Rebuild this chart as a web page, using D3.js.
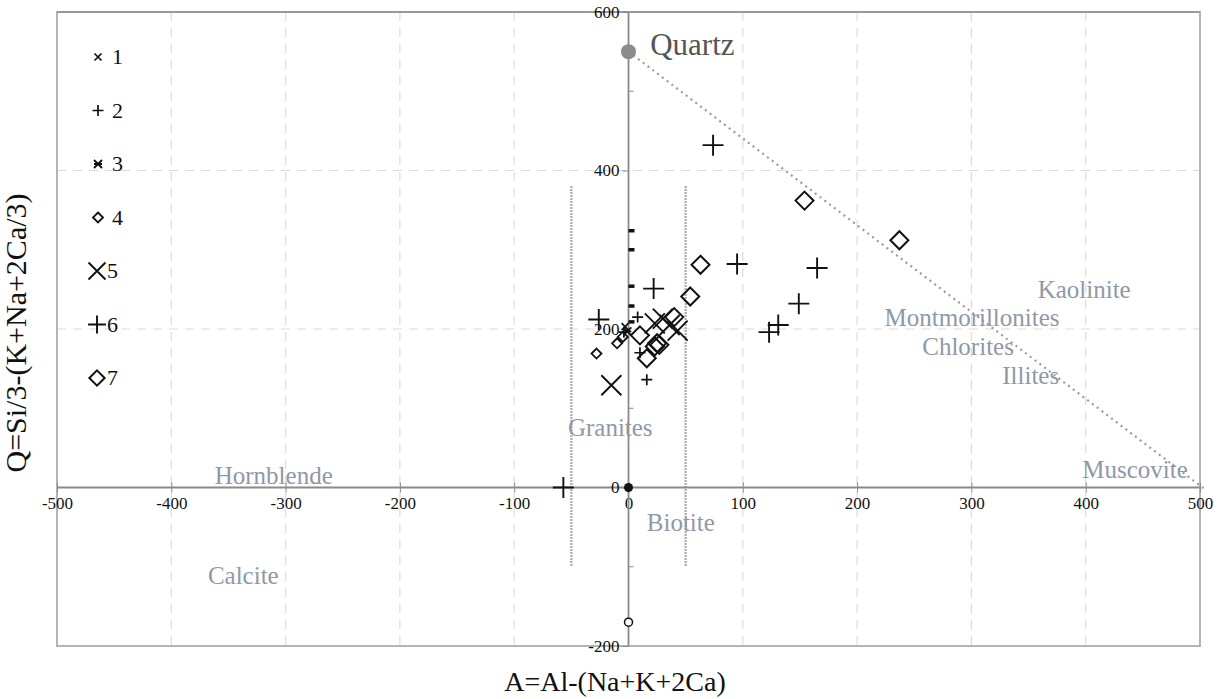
<!DOCTYPE html>
<html lang="en">
<head>
    <meta charset="UTF-8">
    <script src="https://d3js.org/d3.v7.min.js"></script>
    <title>Q-A diagram</title>
    <style>
        body { margin: 0; background: #fff; }
        svg { display: block; font-family: "Liberation Serif", "Times New Roman", serif; }
    </style>
</head>
<body>
    <svg width="1222" height="699"></svg>
    <script>
        // series values, [A, Q]
        const seriesNames = ['1', '2', '3', '4', '5', '6', '7'];
        const s1 = [[-3, 203]];
        const s2 = [[8, 215], [10, 170], [16, 136], [-4, 196]];
        const s3 = [[-1, 197]];
        const s4 = [[-28, 169], [-10, 182], [-5, 190]];
        const s5 = [[-15, 129], [23, 207], [30, 213], [36, 205], [43, 198]];
        const s6 = [[74, 432], [95, 282], [165, 277], [149, 232], [131, 205], [123, 196],
                    [22, 251], [-26, 212], [-57, 0]];
        const s7 = [[154, 362], [237, 312], [63, 281], [54, 241], [40, 215], [10, 192],
                    [16, 163], [23, 178], [25, 182], [27, 180]];
        const axisDashes = [324, 300, 254, 229, 209];
        const quartz = [0, 550];
        const origin = [0, 0];
        const lowCircle = [0, -170];
        const quartzLine = [[0, 550], [505, -3]];
        const graniteBounds = [-50, 50];
        const graniteRange = [-100, 380];

        // mineral labels, [name, A, Q]
        const minerals = [
            ['Kaolinite', 358, 239],
            ['Montmorillonites', 224, 204],
            ['Chlorites', 257, 167],
            ['Illites', 327, 131],
            ['Muscovite', 397, 12],
            ['Hornblende', -362, 4],
            ['Calcite', -368, -122],
            ['Granites', -53, 65],
            ['Biotite', 16, -55]
        ];

        const xTicks = [-500, -400, -300, -200, -100, 0, 100, 200, 300, 400, 500];
        const yTicks = [-200, 0, 200, 400, 600];
        const yMinor = [-100, 100, 300, 500];
        const xGrid = [-400, -300, -200, -100, 100, 200, 300, 400];
        const yGrid = [200, 400];

        const svg = d3.select('svg');
        const x = d3.scaleLinear().domain([-500, 500]).range([57, 1200]);
        const y = d3.scaleLinear().domain([-200, 600]).range([646, 12]);

        // grid
        svg.append('g').selectAll('line').data(xGrid).enter().append('line')
            .attr('x1', d => x(d)).attr('x2', d => x(d))
            .attr('y1', y(600)).attr('y2', y(-200))
            .attr('stroke', '#dcdcdc').attr('stroke-width', 1.2).attr('stroke-dasharray', '9,7');
        svg.append('g').selectAll('line').data(yGrid).enter().append('line')
            .attr('x1', x(-500)).attr('x2', x(500))
            .attr('y1', d => y(d)).attr('y2', d => y(d))
            .attr('stroke', '#dcdcdc').attr('stroke-width', 1.2).attr('stroke-dasharray', '9,7');

        // plot frame
        svg.append('rect')
            .attr('x', x(-500)).attr('y', y(600))
            .attr('width', x(500) - x(-500)).attr('height', y(-200) - y(600))
            .attr('fill', 'none').attr('stroke', '#b4b4b4').attr('stroke-width', 2);
        svg.append('line')
            .attr('x1', x(-500)).attr('x2', x(500)).attr('y1', y(600)).attr('y2', y(600))
            .attr('stroke', '#999').attr('stroke-width', 2);

        // granite field bounds
        svg.append('g').selectAll('line').data(graniteBounds).enter().append('line')
            .attr('x1', d => x(d)).attr('x2', d => x(d))
            .attr('y1', y(graniteRange[1])).attr('y2', y(graniteRange[0]))
            .attr('stroke', '#9a9a9a').attr('stroke-width', 2.5).attr('stroke-dasharray', '1.5,1.5');

        // quartz line
        svg.append('line')
            .attr('x1', x(quartzLine[0][0])).attr('y1', y(quartzLine[0][1]))
            .attr('x2', x(quartzLine[1][0])).attr('y2', y(quartzLine[1][1]))
            .attr('stroke', '#9a9a9a').attr('stroke-width', 2.2).attr('stroke-dasharray', '2,4');

        // axes through origin
        const fmt = d => d3.format('d')(d).replace('−', '-');
        const xAxis = d3.axisBottom(x).tickValues(xTicks).tickSize(5).tickPadding(4).tickFormat(fmt);
        const gx = svg.append('g').attr('transform', `translate(0,${y(0)})`).call(xAxis)
            .attr('font-family', '"Liberation Serif", serif');
        gx.select('.domain').attr('stroke', '#8a8a8a').attr('stroke-width', 1.8)
            .attr('d', `M${x(-500)},0H${x(500)}`);
        gx.selectAll('.tick line').attr('y1', -5).attr('y2', 5).attr('stroke', '#8a8a8a');
        gx.selectAll('.tick text').attr('font-size', 17).attr('fill', '#111');

        const yAxis = d3.axisLeft(y).tickValues(yTicks).tickSize(6).tickPadding(3).tickFormat(fmt);
        const gy = svg.append('g').attr('transform', `translate(${x(0)},0)`).call(yAxis)
            .attr('font-family', '"Liberation Serif", serif');
        gy.select('.domain').attr('stroke', '#8a8a8a').attr('stroke-width', 1.8)
            .attr('d', `M0,${y(600)}V${y(-200)}`);
        gy.selectAll('.tick line').attr('stroke', '#8a8a8a');
        gy.selectAll('.tick text').attr('font-size', 17).attr('fill', '#111');
        gy.selectAll('.minor').data(yMinor).enter().append('line')
            .attr('x1', 0).attr('x2', 5).attr('y1', d => y(d)).attr('y2', d => y(d))
            .attr('stroke', '#8a8a8a');

        // marker shapes
        const shape = {
            times: r => `M${-r},${-r}L${r},${r}M${-r},${r}L${r},${-r}`,
            plus: r => `M${-r},0H${r}M0,${-r}V${r}`,
            star: r => `M${-r},${-r}L${r},${r}M${-r},${r}L${r},${-r}M${-r},0H${r}`,
            diamond: r => `M0,${-r}L${r},0L0,${r}L${-r},0Z`
        };
        const markers = [
            { data: s1, type: 'times', r: 3.5, w: 1.7 },
            { data: s2, type: 'plus', r: 5.5, w: 1.7 },
            { data: s3, type: 'star', r: 4, w: 1.8 },
            { data: s4, type: 'diamond', r: 5, w: 1.8 },
            { data: s5, type: 'times', r: 10, w: 1.9 },
            { data: s6, type: 'plus', r: 10.5, w: 1.9 },
            { data: s7, type: 'diamond', r: 9, w: 2 }
        ];

        // dashes along the Q axis
        svg.append('g').selectAll('line').data(axisDashes).enter().append('line')
            .attr('x1', x(0)).attr('x2', x(0) + 6)
            .attr('y1', d => y(d)).attr('y2', d => y(d))
            .attr('stroke', '#111').attr('stroke-width', 3.5);

        markers.forEach(m => {
            svg.append('g').selectAll('path').data(m.data).enter().append('path')
                .attr('transform', d => `translate(${x(d[0])},${y(d[1])})`)
                .attr('d', shape[m.type](m.r))
                .attr('fill', 'none')
                .attr('stroke', '#111').attr('stroke-width', m.w);
        });

        svg.append('circle').attr('cx', x(origin[0])).attr('cy', y(origin[1])).attr('r', 4.5).attr('fill', '#111');
        svg.append('circle').attr('cx', x(lowCircle[0])).attr('cy', y(lowCircle[1])).attr('r', 4)
            .attr('fill', '#fff').attr('stroke', '#111').attr('stroke-width', 1.5);
        svg.append('circle').attr('cx', x(quartz[0])).attr('cy', y(quartz[1])).attr('r', 7.5).attr('fill', '#8c8c8c');

        // labels
        svg.append('text').attr('x', x(19)).attr('y', y(546))
            .attr('font-size', 31).attr('fill', '#555').text('Quartz');
        svg.append('g').selectAll('text').data(minerals).enter().append('text')
            .attr('x', d => x(d[1])).attr('y', d => y(d[2]))
            .attr('font-size', 25).attr('fill', '#8e98a8').text(d => d[0]);

        // legend
        const legend = svg.append('g');
        markers.forEach((m, i) => {
            const big = m.r > 6;
            const ly = 57 + i * 53.5;
            legend.append('path')
                .attr('transform', `translate(${big ? 97 : 98},${ly})`)
                .attr('d', shape[m.type](m.r * (big ? 0.85 : 1)))
                .attr('fill', 'none').attr('stroke', '#111').attr('stroke-width', m.w);
            legend.append('text').attr('x', big ? 107 : 112).attr('y', ly + 7)
                .attr('font-size', 22).attr('fill', '#111').text(seriesNames[i]);
        });

        // axis titles
        svg.append('text').attr('x', 615).attr('y', 691).attr('text-anchor', 'middle')
            .attr('font-size', 28).attr('fill', '#111').text('A=Al-(Na+K+2Ca)');
        svg.append('text').attr('transform', 'translate(26,333) rotate(-90)').attr('text-anchor', 'middle')
            .attr('font-size', 30).attr('fill', '#111').text('Q=Si/3-(K+Na+2Ca/3)');
    </script>
</body>
</html>
